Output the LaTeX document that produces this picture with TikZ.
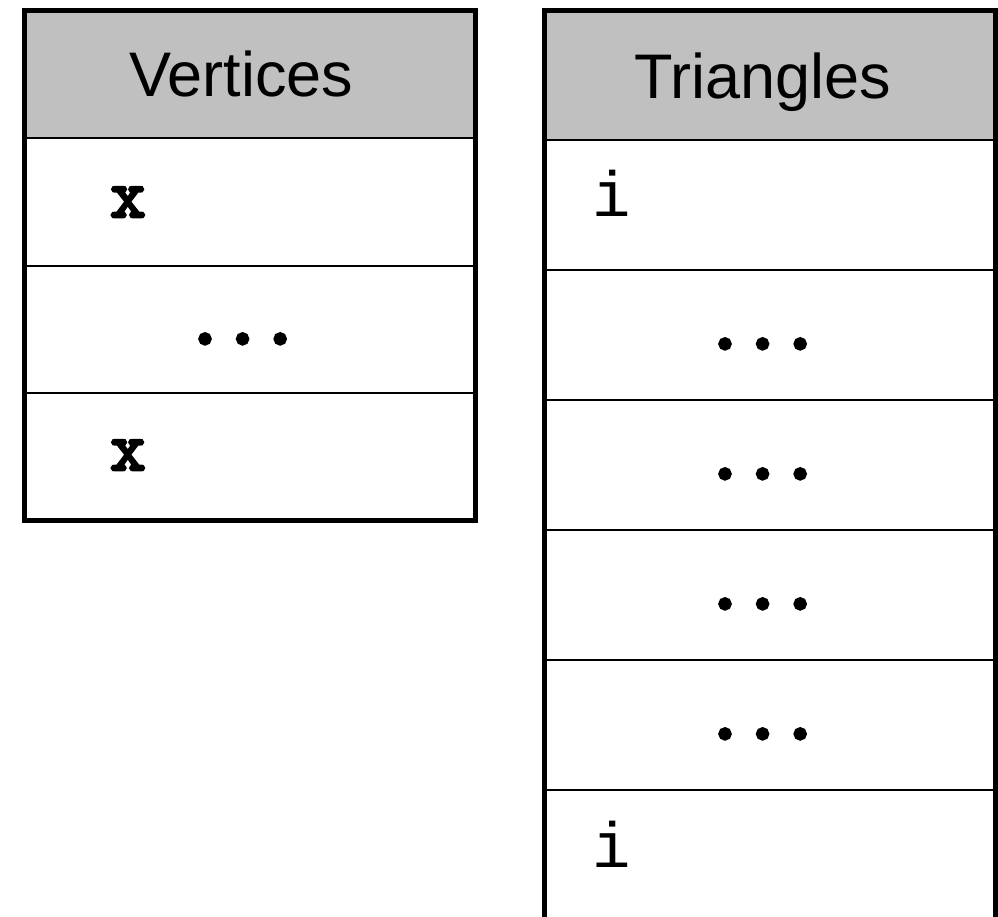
\documentclass[tikz,border=0pt]{standalone}
\usepackage{fontspec}
\setmainfont{Liberation Sans}
\newfontfamily\monofont{Liberation Mono}
\newfontfamily\xfont{Latin Modern Mono}[FakeBold=4]
\newfontfamily\dotfont{Latin Modern Mono}[FakeBold=7]
\definecolor{hdrfill}{RGB}{192,192,192}
\begin{document}
\begin{tikzpicture}[x=1pt,y=-1pt,
  hdr/.style={font=\fontsize{63}{75}\selectfont, inner sep=0pt, anchor=base west},
  monob/.style={font=\xfont\fontsize{69}{82}\selectfont, inner sep=0pt, anchor=base west},
  monor/.style={font=\monofont\fontsize{64}{76}\selectfont, inner sep=0pt, anchor=base west},
  dots/.style={font=\dotfont\fontsize{73}{86}\selectfont, inner sep=0pt, anchor=base west},
  frame/.style={line width=5pt, line join=miter},
  rowline/.style={line width=2.5pt}]
\useasboundingbox (0,0) rectangle (998,917);
\begin{scope}
\clip (0,0) rectangle (998,917);
% ---------- left table: Vertices ----------
\fill[hdrfill] (24.5,10.5) rectangle (475,138);
\draw[rowline] (24.5,138) -- (475,138);
\draw[rowline] (24.5,266) -- (475,266);
\draw[rowline] (24.5,393) -- (475,393);
\draw[frame] (24.5,10.5) rectangle (475,520);
% ---------- right table: Triangles ----------
\fill[hdrfill] (544.5,10.5) rectangle (995.5,140);
\draw[rowline] (544.5,140) -- (995.5,140);
\draw[rowline] (544.5,270) -- (995.5,270);
\draw[rowline] (544.5,400) -- (995.5,400);
\draw[rowline] (544.5,530) -- (995.5,530);
\draw[rowline] (544.5,660) -- (995.5,660);
\draw[rowline] (544.5,790) -- (995.5,790);
\draw[frame] (544.5,940) -- (544.5,10.5) -- (995.5,10.5) -- (995.5,940);
\end{scope}
% ---------- texts ----------
\node[hdr] (vhead) at (129,97) {Vertices};
\node[monob] (vx1) at (110,217) {x};
\node[dots] (vdots) at (186,343) {...};
\node[monob] (vx2) at (110,470) {x};
\node[hdr] (thead) at (634,99) {Triangles};
\node[monor] (ti1) at (592,217) {i};
\node[dots] (tdots1) at (706,348) {...};
\node[dots] (tdots2) at (706,478) {...};
\node[dots] (tdots3) at (706,608) {...};
\node[dots] (tdots4) at (706,738) {...};
\node[monor] (ti2) at (592,867) {i};
\end{tikzpicture}
\end{document}
